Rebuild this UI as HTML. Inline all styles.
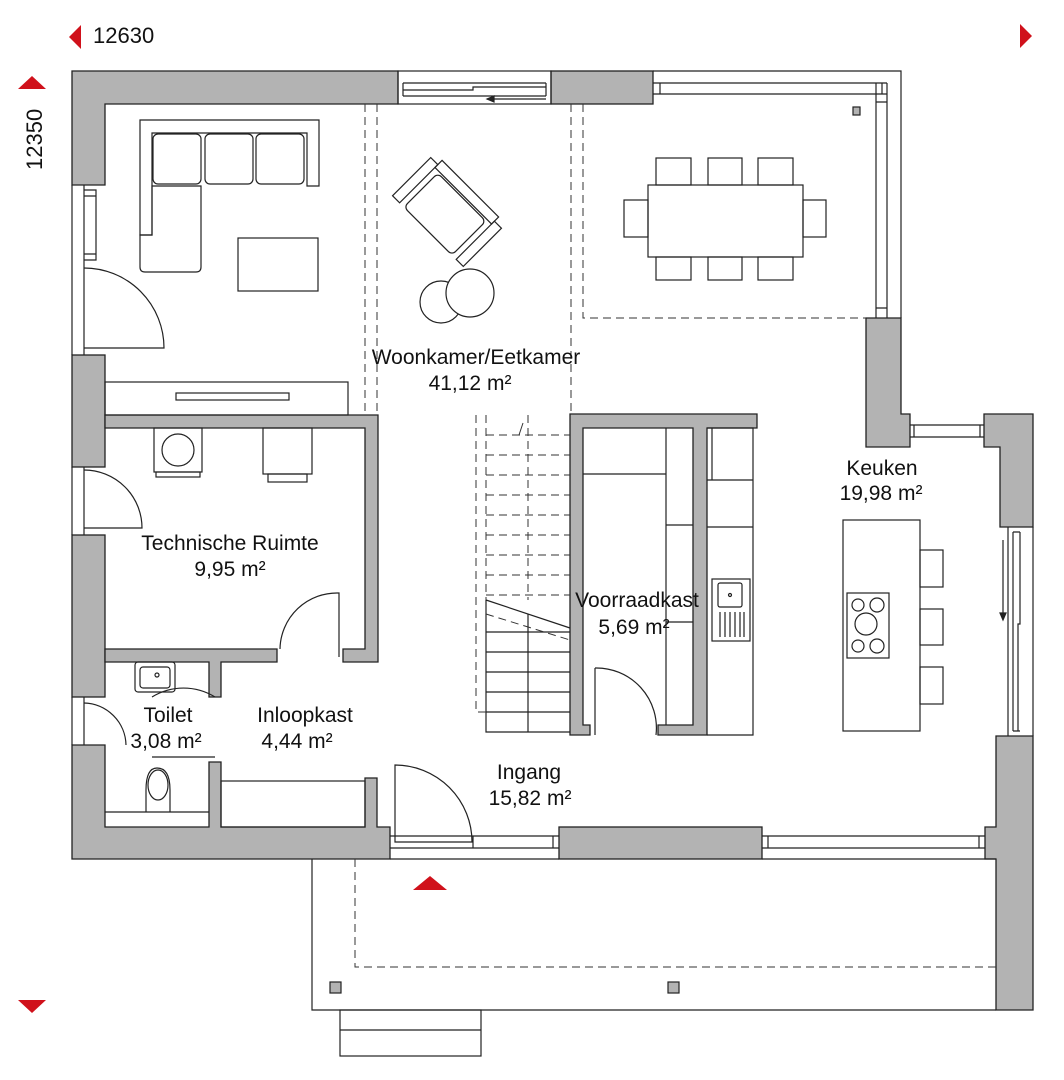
<!DOCTYPE html>
<html><head><meta charset="utf-8"><style>
html,body{margin:0;padding:0;background:#fff}
svg{display:block}
text{font-family:"Liberation Sans",sans-serif;fill:#111}
</style></head><body>
<svg width="1064" height="1080" viewBox="0 0 1064 1080" xmlns="http://www.w3.org/2000/svg">
<g fill="#b3b3b3" stroke="#222" stroke-width="1.3">
<!-- top-left L -->
<path d="M72 71 H398 V104 H105 V185 H72 Z"/>
<!-- left wall segments -->
<rect x="72" y="355" width="33" height="112"/>
<rect x="72" y="535" width="33" height="162"/>
<!-- bottom-left wall -->
<path d="M72 745 H105 V827 H209 V762 H221 V827 H365 V778 H377 V827 H390 V859 H72 Z"/>
<!-- tech/living wall -->
<path d="M105 415 H378 V662 H343 V649 H365 V428 H105 Z"/>
<path d="M105 649 H277 V662 H221 V697 H209 V662 H105 Z"/>
<!-- top middle block -->
<rect x="551" y="71" width="102" height="33"/>
<!-- right wall -->
<path d="M866 318 H901 V414 H910 V447 H866 Z"/>
<path d="M984 414 H1033 V527 H1000 V447 H984 Z"/>
<path d="M996 736 H1033 V1010 H996 V859 H985 V827 H996 Z"/>
<!-- bottom middle -->
<rect x="559" y="827" width="203" height="32"/>
<!-- voorraadkast -->
<path d="M570 414 H757 V428 H707 V735 H658 V725 H693 V428 H583 V725 H590 V735 H570 Z"/>
</g>
<g fill="none" stroke="#222" stroke-width="1.2">
<!-- windows top -->
<rect x="398" y="71" width="153" height="33"/><path d="M403 83 H546 M403 96 H546 M403 83 V96 M546 83 V96 M403 90 H473 V87 H546"/>
<path d="M546 99 H487"/><path d="M487 99 l7 -3 v6 z" fill="#222"/>
<path d="M653 71 H901 V318"/><path d="M653 83 H887 M653 94 H887 M660 83 V94 M882 83 V94"/>
<path d="M876 83 V318 M887 83 V318 M876 102 H887 M876 308 H887"/>
<rect x="853" y="107" width="7" height="8" fill="#b3b3b3"/>
<!-- left windows -->
<path d="M72 185 V355 M84 185 V355 M84 190 H96 V260 H84 M84 196 H96 M84 254 H96"/>
<path d="M72 467 V535 M84 467 V535 M72 697 V745 M84 697 V745"/>
<!-- right kitchen windows -->
<path d="M910 425 H984 M910 437 H984 M914 425 V437 M980 425 V437"/>
<path d="M1033 527 V736 M1008 527 V736 M1013 532 V731 M1020 532 V624 H1018 V731 M1013 532 H1020 M1013 731 H1020"/>
<path d="M1003 540 V617"/><path d="M1003 620 l-3 -7 h6 z" fill="#222"/>
<!-- bottom windows -->
<path d="M390 836 H559 M390 848 H559 M390 859 H559 M473 836 V848 M553 836 V848"/>
<path d="M762 836 H985 M762 848 H985 M768 836 V848 M979 836 V848 M762 859 H996"/>
<!-- doors -->
<path d="M84 268 A80 80 0 0 1 164 348 H84"/>
<path d="M84 470 A58 58 0 0 1 142 528 H84"/>
<path d="M84 703 A43 43 0 0 1 126 745"/>
<path d="M280 649 A57 57 0 0 1 339 593 V657"/>
<path d="M395 765 A77 77 0 0 1 472 842 H395 Z"/>
<path d="M595 668 A60 60 0 0 1 656 735 M595 668 V735"/>
<path d="M152 697 A60 60 0 0 1 215 697 M152 757 H215"/>
<!-- sofa -->
<path d="M140 120 H319 V186 H307 V133 H152 V235 H140 Z"/>
<rect x="153" y="134" width="48" height="50" rx="5"/><rect x="205" y="134" width="48" height="50" rx="5"/><rect x="256" y="134" width="48" height="50" rx="5"/>
<path d="M140 235 H152 V186 H201 V267 Q201 272 196 272 H145 Q140 272 140 267 Z"/>
<rect x="238" y="238" width="80" height="53"/>
<!-- armchair -->
<g transform="rotate(-45 447 212)"><rect x="420" y="162" width="54" height="10"/><rect x="420" y="252" width="54" height="10"/><rect x="470" y="172" width="10" height="80"/><rect x="420" y="178" width="48" height="68" rx="5"/></g>
<circle cx="441" cy="302" r="21"/><circle cx="470" cy="293" r="24" fill="#fff"/>
<!-- sideboard -->
<rect x="105" y="382" width="243" height="33"/><rect x="176" y="393" width="113" height="7"/>
<!-- dining -->
<rect x="648" y="185" width="155" height="72"/>
<rect x="656" y="158" width="35" height="27"/><rect x="708" y="158" width="34" height="27"/><rect x="758" y="158" width="35" height="27"/>
<rect x="656" y="257" width="35" height="23"/><rect x="708" y="257" width="34" height="23"/><rect x="758" y="257" width="35" height="23"/>
<rect x="624" y="200" width="24" height="37"/><rect x="803" y="200" width="23" height="37"/>
<!-- tech room appliances -->
<rect x="154" y="428" width="48" height="44"/><circle cx="178" cy="450" r="16"/><rect x="156" y="472" width="44" height="5"/>
<rect x="263" y="428" width="49" height="46"/><rect x="268" y="474" width="39" height="8"/>
<!-- toilet -->
<rect x="135" y="662" width="40" height="30" rx="3"/><rect x="140" y="667" width="30" height="21" rx="3"/><circle cx="157" cy="675" r="2"/>
<path d="M105 812 H209"/><path d="M146 812 V790 Q146 768 157 768 Q170 768 170 790 V812"/><ellipse cx="158" cy="785" rx="10" ry="15"/>
<rect x="221" y="781" width="144" height="46"/>
<!-- pantry shelves -->
<path d="M583 474 H666 M666 428 V725 M666 525 H693 M666 622 H693"/>
<path d="M707 428 H753 V735 H707 M712 428 V480 M707 480 H753 M707 527 H753"/>
<rect x="712" y="579" width="38" height="62"/><rect x="718" y="583" width="24" height="24" rx="2"/><circle cx="730" cy="595" r="1.5"/>
<path d="M720 612 V637 M725 612 V637 M730 612 V637 M735 612 V637 M740 612 V637 M744 612 V637"/>
<!-- island -->
<rect x="843" y="520" width="77" height="211"/>
<rect x="920" y="550" width="23" height="37"/><rect x="920" y="609" width="23" height="36"/><rect x="920" y="667" width="23" height="37"/>
<rect x="847" y="593" width="42" height="65"/>
<circle cx="858" cy="605" r="6"/><circle cx="877" cy="605" r="7"/><circle cx="866" cy="624" r="11"/><circle cx="858" cy="646" r="6"/><circle cx="877" cy="646" r="7"/>
<!-- stairs solid -->
<path d="M486 600 V732 H570 M486 600 L570 628 M528 614 V732 M486 632 H570 M486 652 H570 M486 672 H570 M486 692 H570 M486 712 H570"/>
<!-- terrace -->
<path d="M312 859 V1010 H996"/>
<rect x="340" y="1010" width="141" height="46"/><path d="M340 1030 H481"/>
<rect x="330" y="982" width="11" height="11" fill="#b3b3b3"/><rect x="668" y="982" width="11" height="11" fill="#b3b3b3"/>
</g>
<g fill="none" stroke="#333" stroke-width="1" stroke-dasharray="8 5">
<path d="M365 104 V414 M377 104 V414 M571 104 V414 M583 104 V318 H866"/>
<path d="M476 415 V712 H486 M486 415 V600 M528 415 V600 M486 435 H570 M486 455 H570 M486 475 H570 M486 495 H570 M486 515 H570 M486 535 H570 M486 555 H570 M486 575 H570 M486 595 H570 M486 614 L570 640"/>
<path d="M355 859 V967 H996"/>
</g>
<path d="M523 423 l-4 12" stroke="#333" fill="none"/>
<!-- red markers -->
<g fill="#d0111b">
<path d="M69 37 L81 25 V49 Z"/><path d="M1020 24 L1032 36 L1020 48 Z"/>
<path d="M18 89 L32 76 L46 89 Z"/><path d="M18 1000 H46 L32 1013 Z"/><path d="M413 890 L430 876 L447 890 Z"/>
</g>
<g font-size="22">
<text x="93" y="43">12630</text>
<text transform="translate(42 170) rotate(-90)">12350</text>
</g>
<g font-size="21" text-anchor="middle">
<text x="476" y="364">Woonkamer/Eetkamer</text><text x="470" y="390">41,12 m²</text>
<text x="230" y="550">Technische Ruimte</text><text x="230" y="576">9,95 m²</text>
<text x="168" y="722">Toilet</text><text x="166" y="748">3,08 m²</text>
<text x="305" y="722">Inloopkast</text><text x="297" y="748">4,44 m²</text>
<text x="529" y="779">Ingang</text><text x="530" y="805">15,82 m²</text>
<text x="637" y="607">Voorraadkast</text><text x="634" y="634">5,69 m²</text>
<text x="882" y="475">Keuken</text><text x="881" y="500">19,98 m²</text>
</g>
</svg>
</body></html>
